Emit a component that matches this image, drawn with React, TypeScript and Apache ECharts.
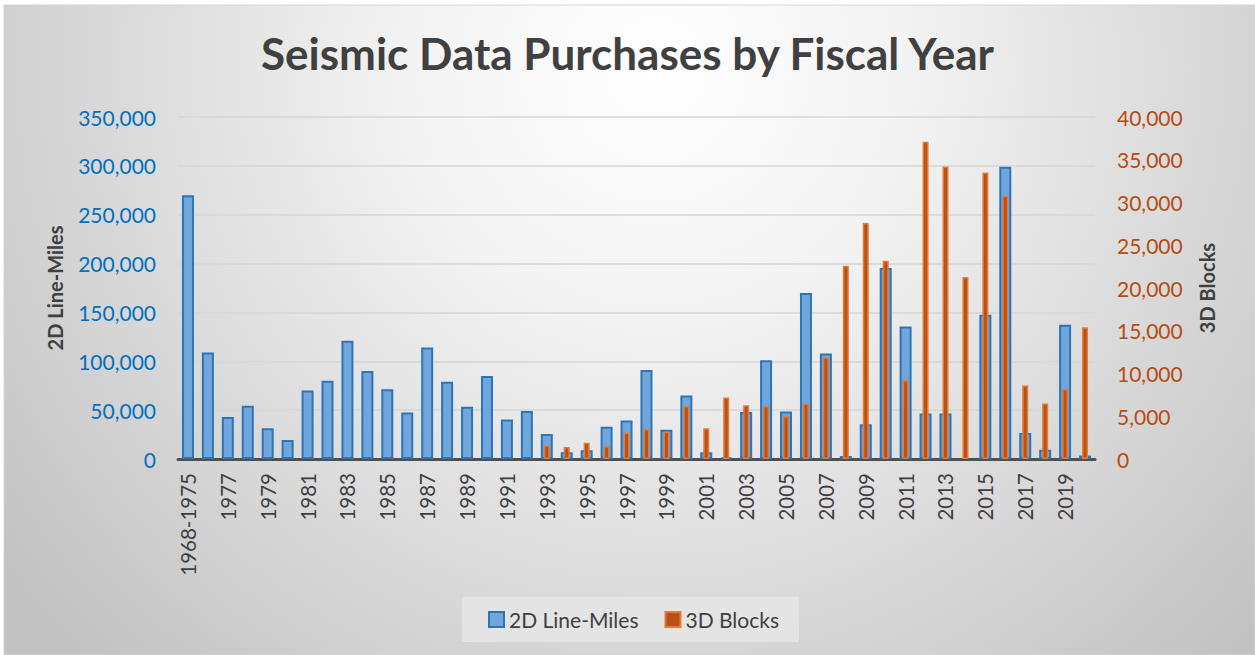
import React, { useEffect, useRef } from "react";
import * as echarts from "echarts";

const categories = [
  "1968-1975", "1976", "1977", "1978", "1979", "1980", "1981", "1982", "1983", "1984",
  "1985", "1986", "1987", "1988", "1989", "1990", "1991", "1992", "1993", "1994",
  "1995", "1996", "1997", "1998", "1999", "2000", "2001", "2002", "2003", "2004",
  "2005", "2006", "2007", "2008", "2009", "2010", "2011", "2012", "2013", "2014",
  "2015", "2016", "2017", "2018", "2019", "2020",
];

const lineMiles2D = [
  270000, 109000, 43000, 54500, 31500, 19500, 70000, 80000, 121000, 90000,
  71500, 47500, 114000, 79000, 53500, 85000, 40500, 49000, 25500, 7000,
  9000, 33000, 39500, 91000, 30000, 65000, 7000, 1500, 48000, 101000,
  48500, 170000, 108000, 3000, 35500, 195500, 135500, 46500, 46500, 0,
  147500, 299000, 26500, 9500, 137500, 3500,
];

const blocks3D = [
  0, 0, 0, 0, 0, 0, 0, 0, 0, 0,
  0, 0, 0, 0, 0, 0, 0, 0, 1600, 1400,
  1900, 1500, 3100, 3500, 3200, 6200, 3600, 7200, 6300, 6200,
  5000, 6500, 11900, 22600, 27600, 23200, 9200, 37100, 34200, 21300,
  33500, 30800, 8600, 6500, 8200, 15400,
];

const leftTicks = { min: 0, max: 350000, interval: 50000 };
const rightTicks = { min: 0, max: 40000, interval: 5000 };

const FONT = "Lato, 'Noto Sans', sans-serif";

const fmt = (v: number) => v.toLocaleString("en-US");
const hideZero = (arr: number[]) => arr.map((v) => (v === 0 ? null : v));

export default function App() {
  const ref = useRef<HTMLDivElement>(null);

  useEffect(() => {
    if (!ref.current) return;
    const chart = echarts.init(ref.current, null, { renderer: "svg" });
    chart.setOption({
      animation: false,
      backgroundColor: "#ffffff",
      textStyle: { fontFamily: FONT },
      title: {
        text: "Seismic Data Purchases by Fiscal Year",
        left: "center",
        top: 26,
        textStyle: {
          fontFamily: FONT,
          fontSize: 44,
          fontWeight: "bold",
          color: "#404040",
        },
      },
      graphic: [
        {
          type: "rect",
          z: -10,
          silent: true,
          shape: { x: 4, y: 5, width: 1251, height: 650 },
          style: {
            fill: {
              type: "radial",
              x: 655,
              y: 70,
              r: 820,
              global: true,
              colorStops: [
                { offset: 0, color: "#ffffff" },
                { offset: 0.3, color: "#f3f3f3" },
                { offset: 1, color: "#c2c2c2" },
              ],
            },
            stroke: "#d4d4d4",
            lineWidth: 1,
          },
        },
        {
          type: "text",
          x: 55,
          y: 288,
          rotation: Math.PI / 2,
          style: {
            text: "2D Line-Miles",
            align: "center",
            verticalAlign: "middle",
            font: `bold 20px ${FONT}`,
            fill: "#404040",
          },
        },
        {
          type: "text",
          x: 1207,
          y: 288,
          rotation: Math.PI / 2,
          style: {
            text: "3D Blocks",
            align: "center",
            verticalAlign: "middle",
            font: `bold 20px ${FONT}`,
            fill: "#404040",
          },
        },
      ],
      legend: {
        data: ["2D Line-Miles", "3D Blocks"],
        icon: "rect",
        left: 462,
        top: 597,
        backgroundColor: "#e4e4e4",
        padding: [12, 20, 12, 26],
        itemWidth: 15,
        itemHeight: 15,
        itemGap: 26,
        textStyle: { fontFamily: FONT, fontSize: 21, color: "#404040" },
      },
      grid: { left: 178, right: 160, top: 117, bottom: 196, containLabel: false },
      xAxis: [
        {
          type: "category",
          data: categories,
          axisLine: { show: true, lineStyle: { color: "#505050", width: 3 } },
          axisTick: { show: false },
          axisLabel: {
            interval: 1,
            rotate: 90,
            margin: 14,
            fontFamily: FONT,
            fontSize: 20.5,
            color: "#404040",
          },
          splitLine: { show: false },
        },
        {
          type: "category",
          data: categories,
          show: false,
        },
      ],
      yAxis: [
        {
          type: "value",
          min: leftTicks.min,
          max: leftTicks.max,
          interval: leftTicks.interval,
          axisLine: { show: false },
          axisTick: { show: false },
          axisLabel: {
            formatter: (v: number) => fmt(v),
            fontFamily: FONT,
            fontSize: 21,
            color: "#0070c0",
            margin: 22,
          },
          splitLine: { show: true, lineStyle: { color: "#d6d6d6", width: 1.5 } },
        },
        {
          type: "value",
          min: rightTicks.min,
          max: rightTicks.max,
          interval: rightTicks.interval,
          position: "right",
          axisLine: { show: false },
          axisTick: { show: false },
          axisLabel: {
            formatter: (v: number) => fmt(v),
            fontFamily: FONT,
            fontSize: 21,
            color: "#b84c10",
            margin: 22,
          },
          splitLine: { show: false },
        },
      ],
      series: [
        {
          name: "2D Line-Miles",
          type: "bar",
          xAxisIndex: 0,
          yAxisIndex: 0,
          data: hideZero(lineMiles2D),
          barWidth: 12,
          itemStyle: { color: "#70a6db", borderColor: "#2e75b6", borderWidth: 2 },
        },
        {
          name: "3D Blocks",
          type: "bar",
          xAxisIndex: 1,
          yAxisIndex: 1,
          data: hideZero(blocks3D),
          barWidth: 6,
          itemStyle: { color: "#b9521a", borderColor: "#e57a33", borderWidth: 1.5 },
        },
      ],
    });
    return () => chart.dispose();
  }, []);

  return (
    <div
      ref={ref}
      style={{ position: "absolute", left: 0, top: 0, width: 1255, height: 655 }}
    />
  );
}
